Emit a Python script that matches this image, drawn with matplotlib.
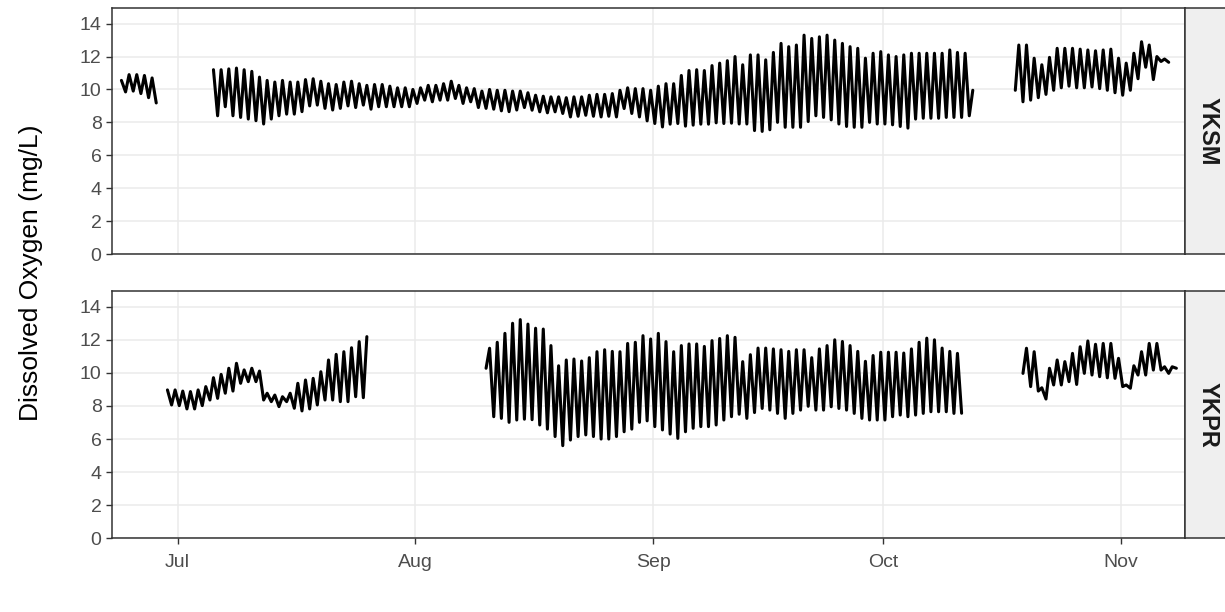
import pandas as pd
import matplotlib.pyplot as plt
import matplotlib.dates as mdates

plt.rcParams['font.family'] = ['Liberation Sans', 'DejaVu Sans']

# Dissolved oxygen (mg/L), one low (early morning) and one high (afternoon) per day.
# Each deployment is listed as alternating values starting at the given time.

# YKSM
yksm_1_start = "2019-06-23 16:00"
yksm_1 = [10.55, 9.85, 10.9, 9.9, 10.9, 9.75, 10.85, 9.5, 10.7, 9.18]

yksm_2_start = "2019-07-05 16:00"
yksm_2 = [11.2,
          8.4, 11.2, 8.95, 11.25, 8.4, 11.3, 8.3, 11.2, 8.2, 11.1,
          8.1, 10.75, 7.9, 10.55, 8.2, 10.45, 8.4, 10.55, 8.5, 10.45,
          8.5, 10.45, 8.65, 10.6, 9.0, 10.65, 9.05, 10.5, 8.85, 10.35,
          8.75, 10.3, 8.85, 10.45, 9.0, 10.5, 8.9, 10.35, 9.05, 10.25,
          8.8, 10.3, 8.95, 10.3, 8.95, 10.2, 8.95, 10.1, 8.95, 10.1,
          8.95, 10.0, 9.15, 10.1, 9.35, 10.25, 9.25, 10.25, 9.35, 10.35,
          9.35, 10.5, 9.45, 10.25, 9.15, 10.1, 9.25, 10.05, 8.9, 9.9,
          8.85, 10.0, 8.8, 9.95, 8.7, 9.95, 8.65, 9.9, 8.75, 9.9,
          8.9, 9.8, 8.74, 9.65, 8.64, 9.59, 8.58, 9.55, 8.64, 9.55,
          8.54, 9.5, 8.33, 9.55, 8.37, 9.55, 8.43, 9.65, 8.37, 9.7,
          8.33, 9.7, 8.37, 9.75, 8.33, 9.95, 8.84, 10.1, 8.54, 10.05,
          8.33, 10.05, 8.09, 9.95, 7.93, 10.2, 7.72, 10.35, 7.89, 10.35,
          7.93, 10.85, 7.77, 11.15, 7.83, 11.2, 7.89, 11.15, 7.89, 11.45,
          7.97, 11.6, 7.93, 11.75, 7.95, 12.0, 7.9, 11.5, 7.9, 12.1,
          7.5, 12.1, 7.45, 11.8, 7.55, 12.25, 8.0, 12.8, 7.7, 12.6,
          7.7, 12.7, 7.7, 13.3, 8.05, 13.1, 8.4, 13.2, 8.3, 13.3,
          8.15, 13.0, 7.9, 12.8, 7.75, 12.6, 7.7, 12.5, 7.7, 11.9,
          8.0, 12.2, 7.9, 12.3, 7.9, 12.1, 7.85, 12.0, 7.75, 12.1,
          7.65, 12.2, 8.2, 12.2, 8.25, 12.2, 8.25, 12.2, 8.25, 12.2,
          8.3, 12.4, 8.3, 12.25, 8.3, 12.2, 8.4, 9.95]

yksm_3_start = "2019-10-18 05:00"
yksm_3 = [9.95, 12.7, 9.25, 12.7, 9.35, 11.9, 9.5, 11.5, 9.7, 11.95,
          9.95, 12.5, 10.1, 12.5, 10.2, 12.5, 10.1, 12.45, 10.1, 12.4,
          10.15, 12.35, 10.05, 12.4, 9.95, 12.45, 9.8, 11.9, 9.65, 11.6,
          9.95, 12.2, 10.65, 12.9, 11.35, 12.7, 10.6, 12.0, 11.7, 11.85,
          11.65]

# YKPR
ykpr_1_start = "2019-06-29 16:00"
ykpr_1 = [8.97,
          8.06, 8.97, 8.02, 8.9, 7.82, 8.87, 7.82, 8.97, 8.02, 9.17,
          8.36, 9.71, 8.46, 9.91, 8.77, 10.28, 8.9, 10.58, 9.37, 10.18,
          9.47, 10.28, 9.47, 10.11, 8.36, 8.77, 8.26, 8.66, 7.96, 8.56,
          8.26, 8.77, 7.86, 9.37, 7.7, 9.57, 7.82, 9.67, 8.06, 10.07,
          8.36, 10.78, 8.36, 11.12, 8.26, 11.28, 8.26, 11.52, 8.56, 11.89,
          8.5, 12.19]

ykpr_2_start = "2019-08-10 05:00"
ykpr_2 = [10.28, 11.49, 7.35, 11.85, 7.25, 12.39, 7.01, 13.0, 7.15, 13.22,
          7.2, 12.95, 7.17, 12.7, 6.85, 12.65, 6.6, 11.65, 6.15, 10.43,
          5.6, 10.78, 5.94, 10.84, 6.15, 10.72, 6.25, 10.92, 6.15, 11.28,
          6.0, 11.4, 6.0, 11.3, 6.15, 11.28, 6.44, 11.78, 6.6, 11.85,
          7.01, 12.25, 7.1, 12.05, 6.75, 12.39, 6.55, 11.89, 6.3, 11.28,
          6.04, 11.65, 6.44, 11.75, 6.65, 11.75, 6.75, 11.6, 6.75, 11.95,
          6.85, 12.08, 7.15, 12.25, 7.35, 12.15, 7.5, 10.68, 7.25, 11.1,
          7.6, 11.5, 7.85, 11.5, 7.75, 11.45, 7.55, 11.4, 7.25, 11.3,
          7.55, 11.4, 7.75, 11.4, 7.98, 10.92, 7.75, 11.45, 7.75, 11.65,
          7.95, 12.0, 7.85, 11.9, 7.75, 11.65, 7.55, 11.3, 7.25, 10.7,
          7.15, 11.05, 7.15, 11.25, 7.15, 11.25, 7.35, 11.25, 7.45, 11.2,
          7.35, 11.45, 7.45, 11.85, 7.55, 12.1, 7.65, 12.0, 7.65, 11.5,
          7.65, 11.3, 7.55, 11.18, 7.56]

ykpr_3_start = "2019-10-19 05:00"
ykpr_3 = [9.97, 11.49, 9.17, 11.28, 8.9, 9.1, 8.42, 10.28, 9.27, 10.78,
          9.27, 10.68, 9.47, 11.18, 9.3, 11.58, 9.97, 11.93, 9.87, 11.73,
          9.77, 11.78, 9.7, 11.78, 9.67, 10.88, 9.17, 9.27, 9.07, 10.43,
          9.87, 11.28, 9.87, 11.78, 10.17, 11.78, 10.17, 10.37, 9.97, 10.37,
          10.28]

stations = ["YKSM", "YKPR"]
segments = {
    "YKSM": [(yksm_1_start, yksm_1), (yksm_2_start, yksm_2), (yksm_3_start, yksm_3)],
    "YKPR": [(ykpr_1_start, ykpr_1), (ykpr_2_start, ykpr_2), (ykpr_3_start, ykpr_3)],
}

y_ticks = [0, 2, 4, 6, 8, 10, 12, 14]
x_start = pd.Timestamp("2019-06-22 09:36")
x_end = pd.Timestamp("2019-11-09 08:00")


def timestamps(start, values):
    # lows sit at 05:00, highs at 16:00
    t = pd.Timestamp(start)
    times = []
    for _ in values:
        times.append(t)
        t = t + pd.Timedelta(hours=11 if t.hour == 5 else 13)
    return times


W, H = 1225, 612
fig = plt.figure(figsize=(W / 100, H / 100), dpi=100)


def px_box(x0, y0, x1, y1):
    return [x0 / W, 1 - y1 / H, (x1 - x0) / W, (y1 - y0) / H]


panel_rows = {"YKSM": (8, 254), "YKPR": (291, 538.3)}
border = '#333333'

for name in stations:
    top, bottom = panel_rows[name]
    ax = fig.add_axes(px_box(111.7, top, 1185, bottom))

    for start, values in segments[name]:
        ax.plot(timestamps(start, values), values, color='black', lw=2.2,
                solid_joinstyle='round', solid_capstyle='round')

    ax.set_xlim(x_start, x_end)
    ax.set_ylim(0, 14.95)
    ax.set_yticks(y_ticks)
    ax.xaxis.set_major_locator(mdates.MonthLocator(bymonth=[7, 8, 9, 10, 11]))
    ax.xaxis.set_major_formatter(mdates.DateFormatter('%b'))

    ax.grid(True, color='#EBEBEB', lw=1.1)
    ax.set_axisbelow(True)
    for spine in ax.spines.values():
        spine.set_color(border)
        spine.set_linewidth(1.1)
    ax.tick_params(direction='out', length=4.3, width=1, color=border,
                   labelcolor='#4D4D4D', labelsize=14, pad=3)
    ax.tick_params(axis='x', pad=7)
    if name == "YKSM":
        ax.tick_params(axis='x', bottom=False, labelbottom=False)

    # facet strip on the right
    strip = fig.add_axes(px_box(1185, top, 1231, bottom))
    strip.set_facecolor('#EFEFEF')
    strip.set_xticks([])
    strip.set_yticks([])
    for spine in strip.spines.values():
        spine.set_color(border)
        spine.set_linewidth(1.1)
    strip.text(0.5, 0.5, name, rotation=270, ha='center', va='center',
               fontsize=17, fontweight='bold', color='#1A1A1A',
               transform=strip.transAxes)

fig.text(31 / W, 1 - 273 / H, "Dissolved Oxygen (mg/L)", rotation=90,
         ha='center', va='center', fontsize=19, color='black')

plt.savefig('out.png', dpi=100)
